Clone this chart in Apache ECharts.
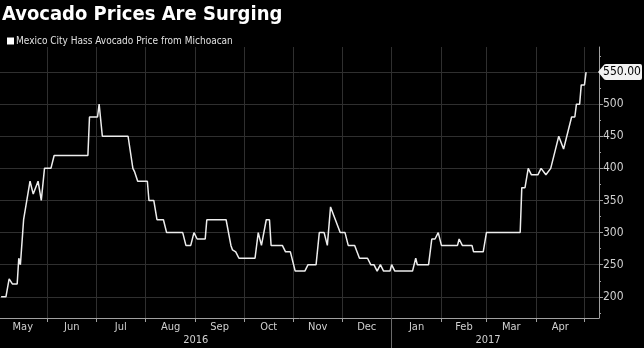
<!DOCTYPE html>
<html>
<head>
<meta charset="utf-8">
<title>Avocado Prices Are Surging</title>
<script src="https://cdn.jsdelivr.net/npm/echarts@6/dist/echarts.min.js"></script>
<style>
  html, body { margin: 0; padding: 0; background: #000; }
  #chart { width: 644px; height: 348px; }
</style>
</head>
<body>
<div id="chart"></div>
<script>
// Daily Mexico City wholesale price of Hass avocado from Michoacan (MXN per box)
const seriesName = 'Mexico City Hass Avocado Price from Michoacan';

const dates = [
  '2016-05-03','2016-05-06','2016-05-08','2016-05-10','2016-05-13','2016-05-14','2016-05-15','2016-05-17',
  '2016-05-18','2016-05-21','2016-05-23','2016-05-26','2016-05-28','2016-05-30','2016-06-03','2016-06-05',
  '2016-06-26','2016-06-27','2016-07-02','2016-07-03','2016-07-05','2016-07-21','2016-07-24','2016-07-25',
  '2016-07-27','2016-08-02','2016-08-03','2016-08-06','2016-08-08','2016-08-12','2016-08-14','2016-08-24',
  '2016-08-26','2016-08-29','2016-08-31','2016-09-02','2016-09-07','2016-09-08','2016-09-20','2016-09-23',
  '2016-09-24','2016-09-26','2016-09-28','2016-10-08','2016-10-10','2016-10-11','2016-10-12','2016-10-13',
  '2016-10-15','2016-10-17','2016-10-18','2016-10-25','2016-10-27','2016-10-30','2016-11-02','2016-11-08',
  '2016-11-10','2016-11-15','2016-11-17','2016-11-20','2016-11-22','2016-11-23','2016-11-24','2016-11-25',
  '2016-11-27','2016-11-28','2016-11-30','2016-12-03','2016-12-05','2016-12-09','2016-12-12','2016-12-17',
  '2016-12-19','2016-12-21','2016-12-23','2016-12-25','2016-12-27','2016-12-31','2017-01-01','2017-01-03',
  '2017-01-14','2017-01-16','2017-01-17','2017-01-24','2017-01-26','2017-01-28','2017-01-30','2017-02-01',
  '2017-02-11','2017-02-12','2017-02-14','2017-02-20','2017-02-21','2017-02-27','2017-03-01','2017-03-22',
  '2017-03-23','2017-03-25','2017-03-27','2017-03-29','2017-04-02','2017-04-04','2017-04-05','2017-04-07',
  '2017-04-08','2017-04-10','2017-04-11','2017-04-13','2017-04-14','2017-04-15','2017-04-16','2017-04-18',
  '2017-04-20','2017-04-21','2017-04-23','2017-04-25','2017-04-26','2017-04-28','2017-04-29','2017-05-01',
  '2017-05-02'
];

const prices = [
  200, 200, 228, 220, 220, 260, 250, 320,
  320, 380, 360, 380, 350, 400, 400, 420,
  420, 480, 480, 500, 450, 450, 400, 395,
  380, 380, 350, 350, 320, 320, 300, 300,
  280, 280, 300, 290, 290, 320, 320, 280,
  273, 270, 260, 260, 300, 300, 280, 280,
  320, 320, 280, 280, 270, 270, 240, 240,
  250, 250, 300, 300, 280, 280, 340, 340,
  320, 320, 300, 300, 280, 280, 260, 260,
  250, 250, 240, 250, 240, 240, 250, 240,
  240, 260, 250, 250, 290, 290, 300, 280,
  280, 290, 280, 280, 270, 270, 300, 300,
  370, 370, 400, 390, 390, 400, 400, 390,
  390, 400, 400, 430, 430, 450, 450, 430,
  450, 450, 480, 480, 500, 500, 530, 530,
  550
];

// Month bands along the bottom axis and the year row beneath them
const monthNames = ['May','Jun','Jul','Aug','Sep','Oct','Nov','Dec','Jan','Feb','Mar','Apr'];
const monthStarts = [
  '2016-05-01','2016-06-01','2016-07-01','2016-08-01','2016-09-01','2016-10-01','2016-11-01',
  '2016-12-01','2017-01-01','2017-02-01','2017-03-01','2017-04-01','2017-05-01'
];
const yearNames = ['2016', '2017'];
const yearBounds = ['2016-05-01', '2017-01-01', '2017-05-01'];

// Price axis
const majorTicks = [200, 250, 300, 350, 400, 450, 500, 550];
const tickLabels = [200, 250, 300, 350, 400, 450, 500];
const minorTicks = [175, 225, 275, 325, 375, 425, 475, 525, 575];

const FONT = '"DejaVu Sans Condensed", "DejaVu Sans", Verdana, sans-serif';

function ts(s) {
  const p = s.split('-').map(Number);
  return new Date(p[0], p[1] - 1, p[2]).getTime();
}

const X_MIN = new Date(2016, 4, 2, 7, 30).getTime();
const X_MAX = new Date(2017, 4, 10, 1, 0).getTime();

const startTs = monthStarts.map(ts);
const monthMids = monthNames.map((_, i) => (startTs[i] + startTs[i + 1]) / 2);
const tickTs = startTs.filter(t => t > X_MIN && t < X_MAX);

const yb = yearBounds.map(ts);
const yearMids = [(Math.max(yb[0], X_MIN) + yb[1]) / 2, (yb[1] + yb[2]) / 2];

const data = dates.map((d, i) => [ts(d), prices[i]]);
const last = prices[prices.length - 1];

const axisColor = '#a0a0a0';
const gridColor = '#2f2f2f';
const labelColor = '#d0d0d0';

const chart = echarts.init(document.getElementById('chart'), null, { renderer: 'canvas' });

chart.setOption({
  backgroundColor: '#000',
  animation: false,
  title: {
    text: 'Avocado Prices Are Surging',
    left: 2,
    top: 5,
    padding: 0,
    textStyle: { color: '#fff', fontSize: 20, fontWeight: 'bold', fontFamily: FONT }
  },
  legend: {
    left: 2,
    top: 31,
    icon: 'rect',
    itemWidth: 7,
    itemHeight: 7,
    textStyle: { color: '#e0e0e0', fontSize: 10, fontFamily: FONT, padding: [0, 0, 0, -3] },
    data: [seriesName]
  },
  grid: { left: 0, right: 45, top: 47, bottom: 30, containLabel: false, outerBoundsMode: 'none' },
  xAxis: [
    {
      type: 'value',
      min: X_MIN,
      max: X_MAX,
      position: 'bottom',
      axisLine: { show: true, lineStyle: { color: axisColor, width: 1 } },
      axisTick: { show: true, customValues: tickTs, length: 4, lineStyle: { color: axisColor } },
      axisLabel: {
        customValues: monthMids,
        formatter: v => monthNames[monthMids.indexOf(v)],
        color: labelColor,
        fontSize: 11,
        fontFamily: FONT,
        margin: 4,
        hideOverlap: false
      },
      splitLine: { show: true, lineStyle: { color: gridColor, width: 1 } }
    },
    {
      type: 'value',
      min: X_MIN,
      max: X_MAX,
      position: 'bottom',
      offset: 0,
      axisLine: { show: false },
      axisTick: { show: true, customValues: [yb[1]], length: 30, lineStyle: { color: '#6a6a6a' } },
      axisLabel: {
        customValues: yearMids,
        formatter: v => yearNames[yearMids.indexOf(v)],
        color: labelColor,
        fontSize: 11,
        fontFamily: FONT,
        margin: 17,
        hideOverlap: false
      },
      splitLine: { show: false }
    }
  ],
  yAxis: [
    {
      type: 'value',
      position: 'right',
      min: 167,
      max: 589,
      axisLine: { show: true, lineStyle: { color: axisColor, width: 1 } },
      axisTick: { show: true, customValues: majorTicks, length: 4, lineStyle: { color: axisColor } },
      axisLabel: {
        customValues: tickLabels,
        color: labelColor,
        fontSize: 12,
        fontFamily: FONT,
        margin: 4
      },
      splitLine: { show: true, lineStyle: { color: gridColor, width: 1 } }
    },
    {
      type: 'value',
      position: 'right',
      min: 167,
      max: 589,
      axisLine: { show: false },
      axisTick: { show: true, customValues: minorTicks, length: 2, lineStyle: { color: axisColor } },
      axisLabel: { show: false },
      splitLine: { show: false }
    }
  ],
  series: [
    {
      name: seriesName,
      type: 'line',
      xAxisIndex: 0,
      yAxisIndex: 0,
      data: data,
      showSymbol: false,
      symbol: 'none',
      lineStyle: { color: '#ededed', width: 1.5 },
      itemStyle: { color: '#ffffff' },
      markPoint: {
        silent: true,
        symbol: 'path://M0,8 L5,2 Q6,0 8,0 L42,0 Q44,0 44,2 L44,14 Q44,16 42,16 L8,16 Q6,16 5,14 Z',
        symbolSize: [44, 16],
        symbolKeepAspect: false,
        symbolOffset: [21, 0],
        itemStyle: { color: '#f2f2f2' },
        label: {
          show: true,
          position: 'inside',
          offset: [2, 0],
          color: '#000',
          fontSize: 12,
          fontFamily: FONT,
          formatter: p => Number(p.value).toFixed(2)
        },
        data: [{ coord: [X_MAX, last], value: last }]
      }
    }
  ]
});
</script>
</body>
</html>
